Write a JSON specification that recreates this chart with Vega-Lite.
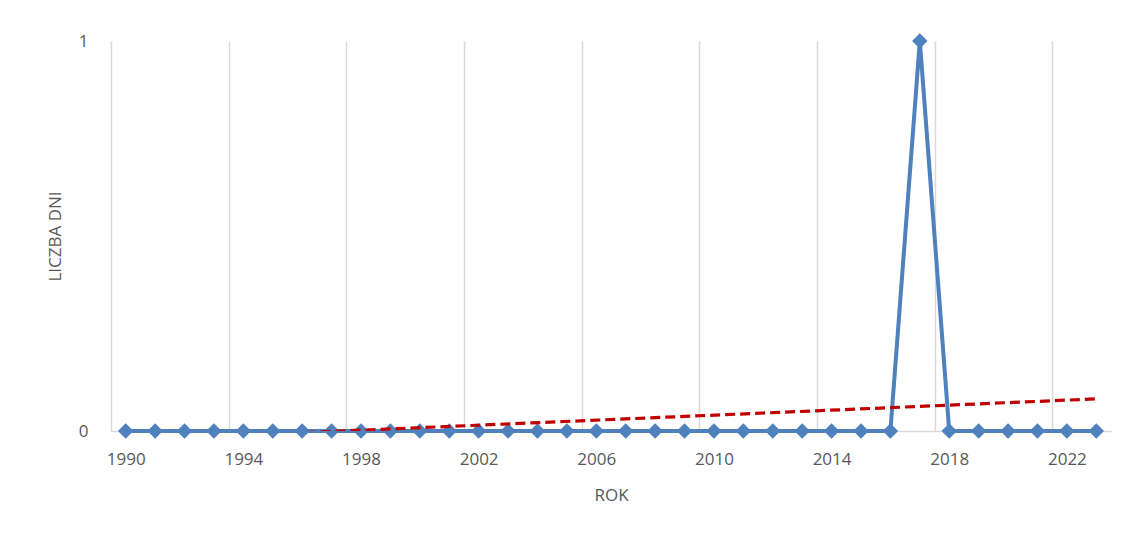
{
  "$schema": "https://vega.github.io/schema/vega-lite/v6.json",
  "width": 1000,
  "height": 390,
  "autosize": {"type": "none"},
  "padding": {"left": 111, "top": 41, "right": 19, "bottom": 103},
  "background": "white",
  "config": {
    "view": {"stroke": null},
    "font": "Open Sans",
    "axis": {"labelFont": "Open Sans", "titleFont": "Open Sans", "labelColor": "#595959", "titleColor": "#595959", "titleFontWeight": "normal"}
  },
  "data": {
    "values": [
      {"year": 1990, "days": 0}, {"year": 1991, "days": 0}, {"year": 1992, "days": 0}, {"year": 1993, "days": 0},
      {"year": 1994, "days": 0}, {"year": 1995, "days": 0}, {"year": 1996, "days": 0}, {"year": 1997, "days": 0},
      {"year": 1998, "days": 0}, {"year": 1999, "days": 0}, {"year": 2000, "days": 0}, {"year": 2001, "days": 0},
      {"year": 2002, "days": 0}, {"year": 2003, "days": 0}, {"year": 2004, "days": 0}, {"year": 2005, "days": 0},
      {"year": 2006, "days": 0}, {"year": 2007, "days": 0}, {"year": 2008, "days": 0}, {"year": 2009, "days": 0},
      {"year": 2010, "days": 0}, {"year": 2011, "days": 0}, {"year": 2012, "days": 0}, {"year": 2013, "days": 0},
      {"year": 2014, "days": 0}, {"year": 2015, "days": 0}, {"year": 2016, "days": 0}, {"year": 2017, "days": 1},
      {"year": 2018, "days": 0}, {"year": 2019, "days": 0}, {"year": 2020, "days": 0}, {"year": 2021, "days": 0},
      {"year": 2022, "days": 0}, {"year": 2023, "days": 0}
    ]
  },
  "encoding": {
    "x": {
      "field": "year",
      "type": "quantitative",
      "scale": {"domain": [1989.5, 2023.5], "nice": false, "zero": false},
      "axis": {
        "values": [1989.5, 1993.5, 1997.5, 2001.5, 2005.5, 2009.5, 2013.5, 2017.5, 2021.5],
        "labelExpr": "format(datum.value + 0.5, 'd')",
        "labelOffset": 14.7,
        "labelFlush": false,
        "labelOverlap": false,
        "labelFontSize": 17,
        "labelPadding": 20,
        "grid": true,
        "gridColor": "#D9D9D9",
        "gridWidth": 1.5,
        "ticks": false,
        "domain": true,
        "domainColor": "#D9D9D9",
        "domainWidth": 1.5,
        "title": "ROK",
        "titleFontSize": 17,
        "titleBaseline": "middle",
        "titleY": 64
      }
    },
    "y": {
      "field": "days",
      "type": "quantitative",
      "scale": {"domain": [0, 1], "nice": false},
      "axis": {
        "values": [0, 1],
        "format": "d",
        "grid": false,
        "ticks": false,
        "domain": false,
        "labelFontSize": 17,
        "labelPadding": 23,
        "labelFlush": false,
        "title": "LICZBA DNI",
        "titleFontSize": 17,
        "titleBaseline": "middle",
        "titleX": -56
      }
    }
  },
  "layer": [
    {
      "mark": {
        "type": "line",
        "color": "#4F81BD",
        "strokeWidth": 4,
        "point": {"shape": "diamond", "size": 240, "filled": true, "color": "#4F81BD", "opacity": 1}
      }
    },
    {
      "transform": [{"regression": "days", "on": "year", "extent": [1990, 2023]}],
      "mark": {"type": "line", "color": "#C00000", "strokeWidth": 3.2, "strokeDash": [10, 5], "clip": true}
    }
  ]
}
